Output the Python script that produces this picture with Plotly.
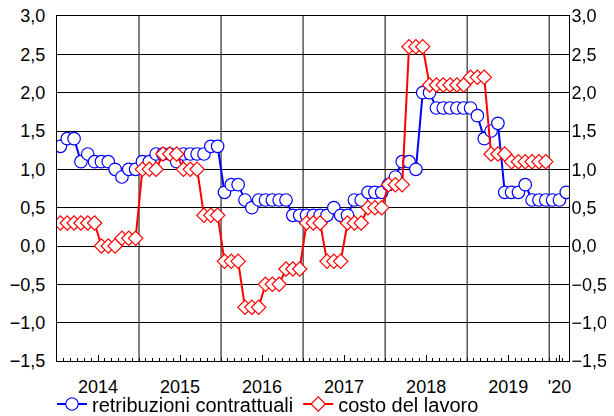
import plotly.graph_objects as go

# Monthly data, Jan 2014 .. Mar 2020 (percent changes)
retribuzioni_2014 = [1.3, 1.4, 1.4, 1.1, 1.2, 1.1, 1.1, 1.1, 1.0, 0.9, 1.0, 1.0]
retribuzioni_2015 = [1.1, 1.1, 1.2, 1.2, 1.2, 1.1, 1.2, 1.2, 1.2, 1.2, 1.3, 1.3]
retribuzioni_2016 = [0.7, 0.8, 0.8, 0.6, 0.5, 0.6, 0.6, 0.6, 0.6, 0.6, 0.4, 0.4]
retribuzioni_2017 = [0.4, 0.4, 0.4, 0.4, 0.5, 0.4, 0.4, 0.6, 0.6, 0.7, 0.7, 0.7]
retribuzioni_2018 = [0.8, 0.9, 1.1, 1.1, 1.0, 2.0, 2.0, 1.8, 1.8, 1.8, 1.8, 1.8]
retribuzioni_2019 = [1.8, 1.7, 1.4, 1.5, 1.6, 0.7, 0.7, 0.7, 0.8, 0.6, 0.6, 0.6]
retribuzioni_2020 = [0.6, 0.6, 0.7]

costo_2014 = [0.3, 0.3, 0.3, 0.3, 0.3, 0.3, 0.0, 0.0, 0.0, 0.1, 0.1, 0.1]
costo_2015 = [1.0, 1.0, 1.0, 1.2, 1.2, 1.2, 1.0, 1.0, 1.0, 0.4, 0.4, 0.4]
costo_2016 = [-0.2, -0.2, -0.2, -0.8, -0.8, -0.8, -0.5, -0.5, -0.5, -0.3, -0.3, -0.3]
costo_2017 = [0.3, 0.3, 0.3, -0.2, -0.2, -0.2, 0.3, 0.3, 0.3, 0.5, 0.5, 0.5]
costo_2018 = [0.8, 0.8, 0.8, 2.6, 2.6, 2.6, 2.1, 2.1, 2.1, 2.1, 2.1, 2.1]
costo_2019 = [2.2, 2.2, 2.2, 1.2, 1.2, 1.2, 1.1, 1.1, 1.1, 1.1, 1.1, 1.1]

year_labels = ["2014", "2015", "2016", "2017", "2018", "2019", "'20"]
year_label_pos = [5.5, 17.5, 29.5, 41.5, 53.5, 65.5, 73.0]
year_boundaries = [11.5, 23.5, 35.5, 47.5, 59.5, 71.5]

retribuzioni = (retribuzioni_2014 + retribuzioni_2015 + retribuzioni_2016 +
                retribuzioni_2017 + retribuzioni_2018 + retribuzioni_2019 + retribuzioni_2020)
costo = costo_2014 + costo_2015 + costo_2016 + costo_2017 + costo_2018 + costo_2019

x_r = list(range(len(retribuzioni)))
x_c = list(range(len(costo)))

FONT = "Liberation Sans, Arial, sans-serif"
FS = 18

# the page body adds an 8px offset; margins compensate so the plot lands where the reference has it
W, H = 606, 416

fig = go.Figure()
fig.add_trace(go.Scatter(
    x=x_r, y=retribuzioni, mode="lines+markers", name="retribuzioni contrattuali",
    line=dict(color="#0000ff", width=2),
    marker=dict(symbol="circle", size=12.5, color="white", line=dict(color="#0000ff", width=1.2)),
))
fig.add_trace(go.Scatter(
    x=x_c, y=costo, mode="lines+markers", name="costo del lavoro",
    line=dict(color="#ff0000", width=2),
    marker=dict(symbol="diamond", size=11, color="white", line=dict(color="#ff0000", width=1.2)),
))
# invisible trace to activate the right-hand axis
fig.add_trace(go.Scatter(
    x=x_r, y=retribuzioni, yaxis="y2", mode="markers", opacity=0,
    showlegend=False, hoverinfo="skip", marker=dict(size=1),
))

for xb in year_boundaries:
    fig.add_shape(type="line", xref="x", yref="paper", x0=xb, x1=xb, y0=0, y1=1,
                  line=dict(color="black", width=1), layer="below")

yax = dict(range=[-1.5, 3.0], tick0=0, dtick=0.5, tickformat=".1f",
           showline=True, linecolor="black", linewidth=1, ticks="", ticklen=0,
           zeroline=False, automargin=False, ticklabeloverflow="allow",
           tickfont=dict(family=FONT, size=FS, color="black"))

fig.update_layout(
    width=W, height=H,
    margin=dict(l=49, r=45, t=8, b=63, autoexpand=False),
    plot_bgcolor="white", paper_bgcolor="white",
    separators=", ",
    font=dict(family=FONT, size=FS, color="black"),
    xaxis=dict(
        range=[-0.5, 74.4], tickmode="array", tickvals=year_label_pos, ticktext=year_labels,
        ticks="inside", ticklen=6, tickcolor="black", tickwidth=1,
        minor=dict(tickmode="linear", tick0=0.5, dtick=1, ticks="inside", ticklen=3,
                   tickcolor="black", showgrid=False),
        showgrid=False, zeroline=False, showline=True, mirror=True, automargin=False,
        linecolor="black", linewidth=1, ticklabelstandoff=9, ticklabeloverflow="allow",
        tickfont=dict(family=FONT, size=FS, color="black"),
    ),
    yaxis=dict(**yax, showgrid=True, gridcolor="black", gridwidth=1, mirror=True,
               ticklabelstandoff=7),
    yaxis2=dict(**yax, overlaying="y", side="right", showgrid=False, ticklabelstandoff=-2),
    legend=dict(orientation="h", x=44 / W, xanchor="left", xref="container",
                y=1 - 396 / H, yanchor="middle", yref="container",
                font=dict(family=FONT, size=20, color="black"), itemwidth=30,
                tracegroupgap=0, bgcolor="rgba(0,0,0,0)"),
    showlegend=True,
)

fig.write_html("out.html")
